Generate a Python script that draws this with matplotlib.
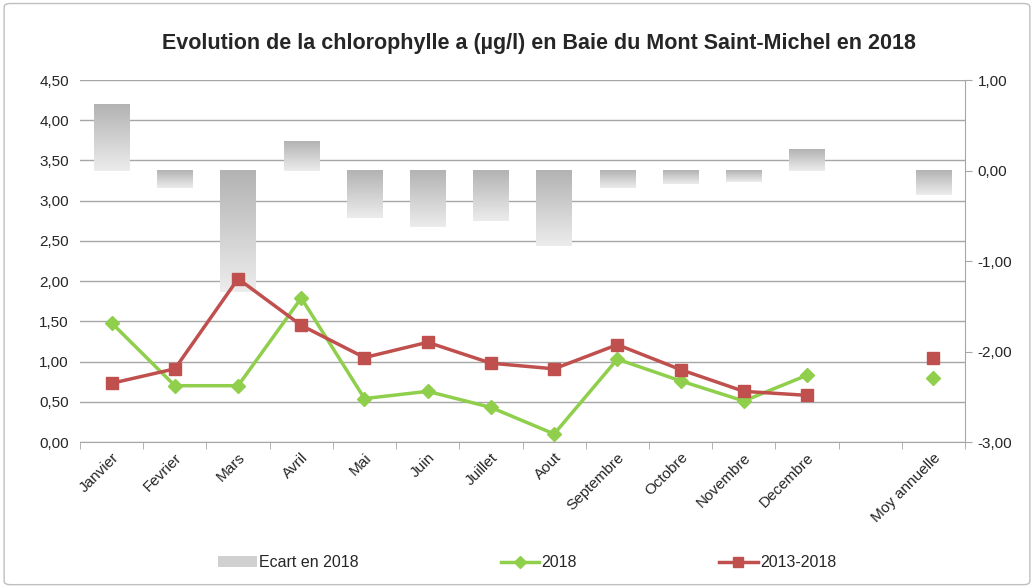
import numpy as np
import matplotlib
matplotlib.use("Agg")
import matplotlib.pyplot as plt
from matplotlib.patches import Patch, FancyBboxPatch
from matplotlib.lines import Line2D
from matplotlib.ticker import FuncFormatter, MultipleLocator, FixedLocator

plt.rcParams['font.family'] = ['Liberation Sans', 'DejaVu Sans']

# Data
months = ["Janvier", "Fevrier", "Mars", "Avril", "Mai", "Juin", "Juillet", "Aout",
          "Septembre", "Octobre", "Novembre", "Decembre", "", "Moy annuelle"]
ecart_2018 = [0.73, -0.19, -1.34, 0.33, -0.52, -0.62, -0.56, -0.83,
              -0.19, -0.15, -0.13, 0.24, np.nan, -0.27]
chl_2018 = [1.48, 0.70, 0.70, 1.79, 0.54, 0.63, 0.43, 0.10,
            1.03, 0.76, 0.51, 0.83, np.nan, 0.79]
chl_2013_2018 = [0.73, 0.91, 2.03, 1.45, 1.05, 1.24, 0.98, 0.91,
                 1.21, 0.90, 0.63, 0.58, np.nan, 1.05]

GREEN = "#8fcf4c"
RED = "#c0504d"
GRID = "#a6a6a6"
TXT = "#262626"

fig = plt.figure(figsize=(10.34, 5.87), dpi=100)
fig.patches.append(FancyBboxPatch((0.004, 0.004), 0.992, 0.99, boxstyle="round,pad=0,rounding_size=0.006",
                                  transform=fig.transFigure, fill=False, edgecolor="#bfbfbf", lw=1))

ax = fig.add_axes([0.0774, 0.247, 0.8559, 0.6166])
x = np.arange(len(months))

# left scale: grid only
ax.set_ylim(0, 4.5)
ax.set_xlim(-0.5, len(months) - 0.5)
ax.yaxis.set_major_locator(MultipleLocator(0.5))
ax.yaxis.set_major_formatter(FuncFormatter(lambda v, p: f"{v:.2f}".replace(".", ",")))
ax.grid(axis="y", color=GRID, lw=1)
ax.set_axisbelow(True)
for s in ["top", "left", "right"]:
    ax.spines[s].set_visible(False)
ax.spines["bottom"].set_color(GRID)
ax.tick_params(axis="y", length=0, labelsize=11, labelcolor=TXT, pad=8)
ax.set_xticks(x)
ax.set_xticklabels(months, rotation=45, ha="right", rotation_mode="anchor", fontsize=11, color=TXT)
ax.tick_params(axis="x", which="major", length=0, pad=6)
ax.xaxis.set_minor_locator(FixedLocator(np.arange(-0.5, len(months), 1.0)))
ax.tick_params(axis="x", which="minor", length=5, color=GRID)

# right scale: gradient bars
axb = ax.twinx()
bw = 0.56
grad = np.linspace(0, 1, 64).reshape(-1, 1)
cmap = matplotlib.colors.LinearSegmentedColormap.from_list("g", ["#b3b3b3", "#ececec"])
for xi, v in zip(x, ecart_2018):
    if np.isnan(v):
        continue
    top, bot = max(v, 0), min(v, 0)
    axb.imshow(grad, extent=[xi - bw / 2, xi + bw / 2, bot, top], origin="upper",
               aspect="auto", cmap=cmap, zorder=2)
axb.set_xlim(ax.get_xlim())
axb.set_ylim(-3, 1)
axb.yaxis.set_major_locator(MultipleLocator(1))
axb.yaxis.set_major_formatter(FuncFormatter(lambda v, p: f"{v:.2f}".replace(".", ",")))
for s in ["top", "left", "bottom"]:
    axb.spines[s].set_visible(False)
axb.spines["right"].set_color(GRID)
axb.tick_params(axis="y", length=5, color=GRID, labelsize=11, labelcolor=TXT, pad=4)

# lines on left scale, drawn on top
axl = ax.twinx()
axl.set_xlim(ax.get_xlim())
axl.set_ylim(ax.get_ylim())
axl.axis("off")
axl.plot(x, chl_2018, color=GREEN, lw=2.5, marker="D", markersize=7, zorder=3)
axl.plot(x, chl_2013_2018, color=RED, lw=2.5, marker="s", markersize=9, zorder=4)

fig.text(0.521, 0.926, "Evolution de la chlorophylle a (µg/l) en Baie du Mont Saint-Michel en 2018",
         ha="center", va="center", fontsize=15.5, fontweight="bold", color=TXT)

handles = [Patch(facecolor="#d0d0d0", edgecolor="none"),
           Line2D([], [], color=GREEN, lw=2.5, marker="D", markersize=6),
           Line2D([], [], color=RED, lw=2.5, marker="s", markersize=7)]
fig.legend(handles, ["Ecart en 2018", "2018", "2013-2018"], loc="center", bbox_to_anchor=(0.51, 0.041),
           ncol=3, frameon=False, fontsize=11.5, columnspacing=8.9, handlelength=2.4, handletextpad=0.15,
           labelcolor=TXT)

fig.savefig("out.png", dpi=100)
